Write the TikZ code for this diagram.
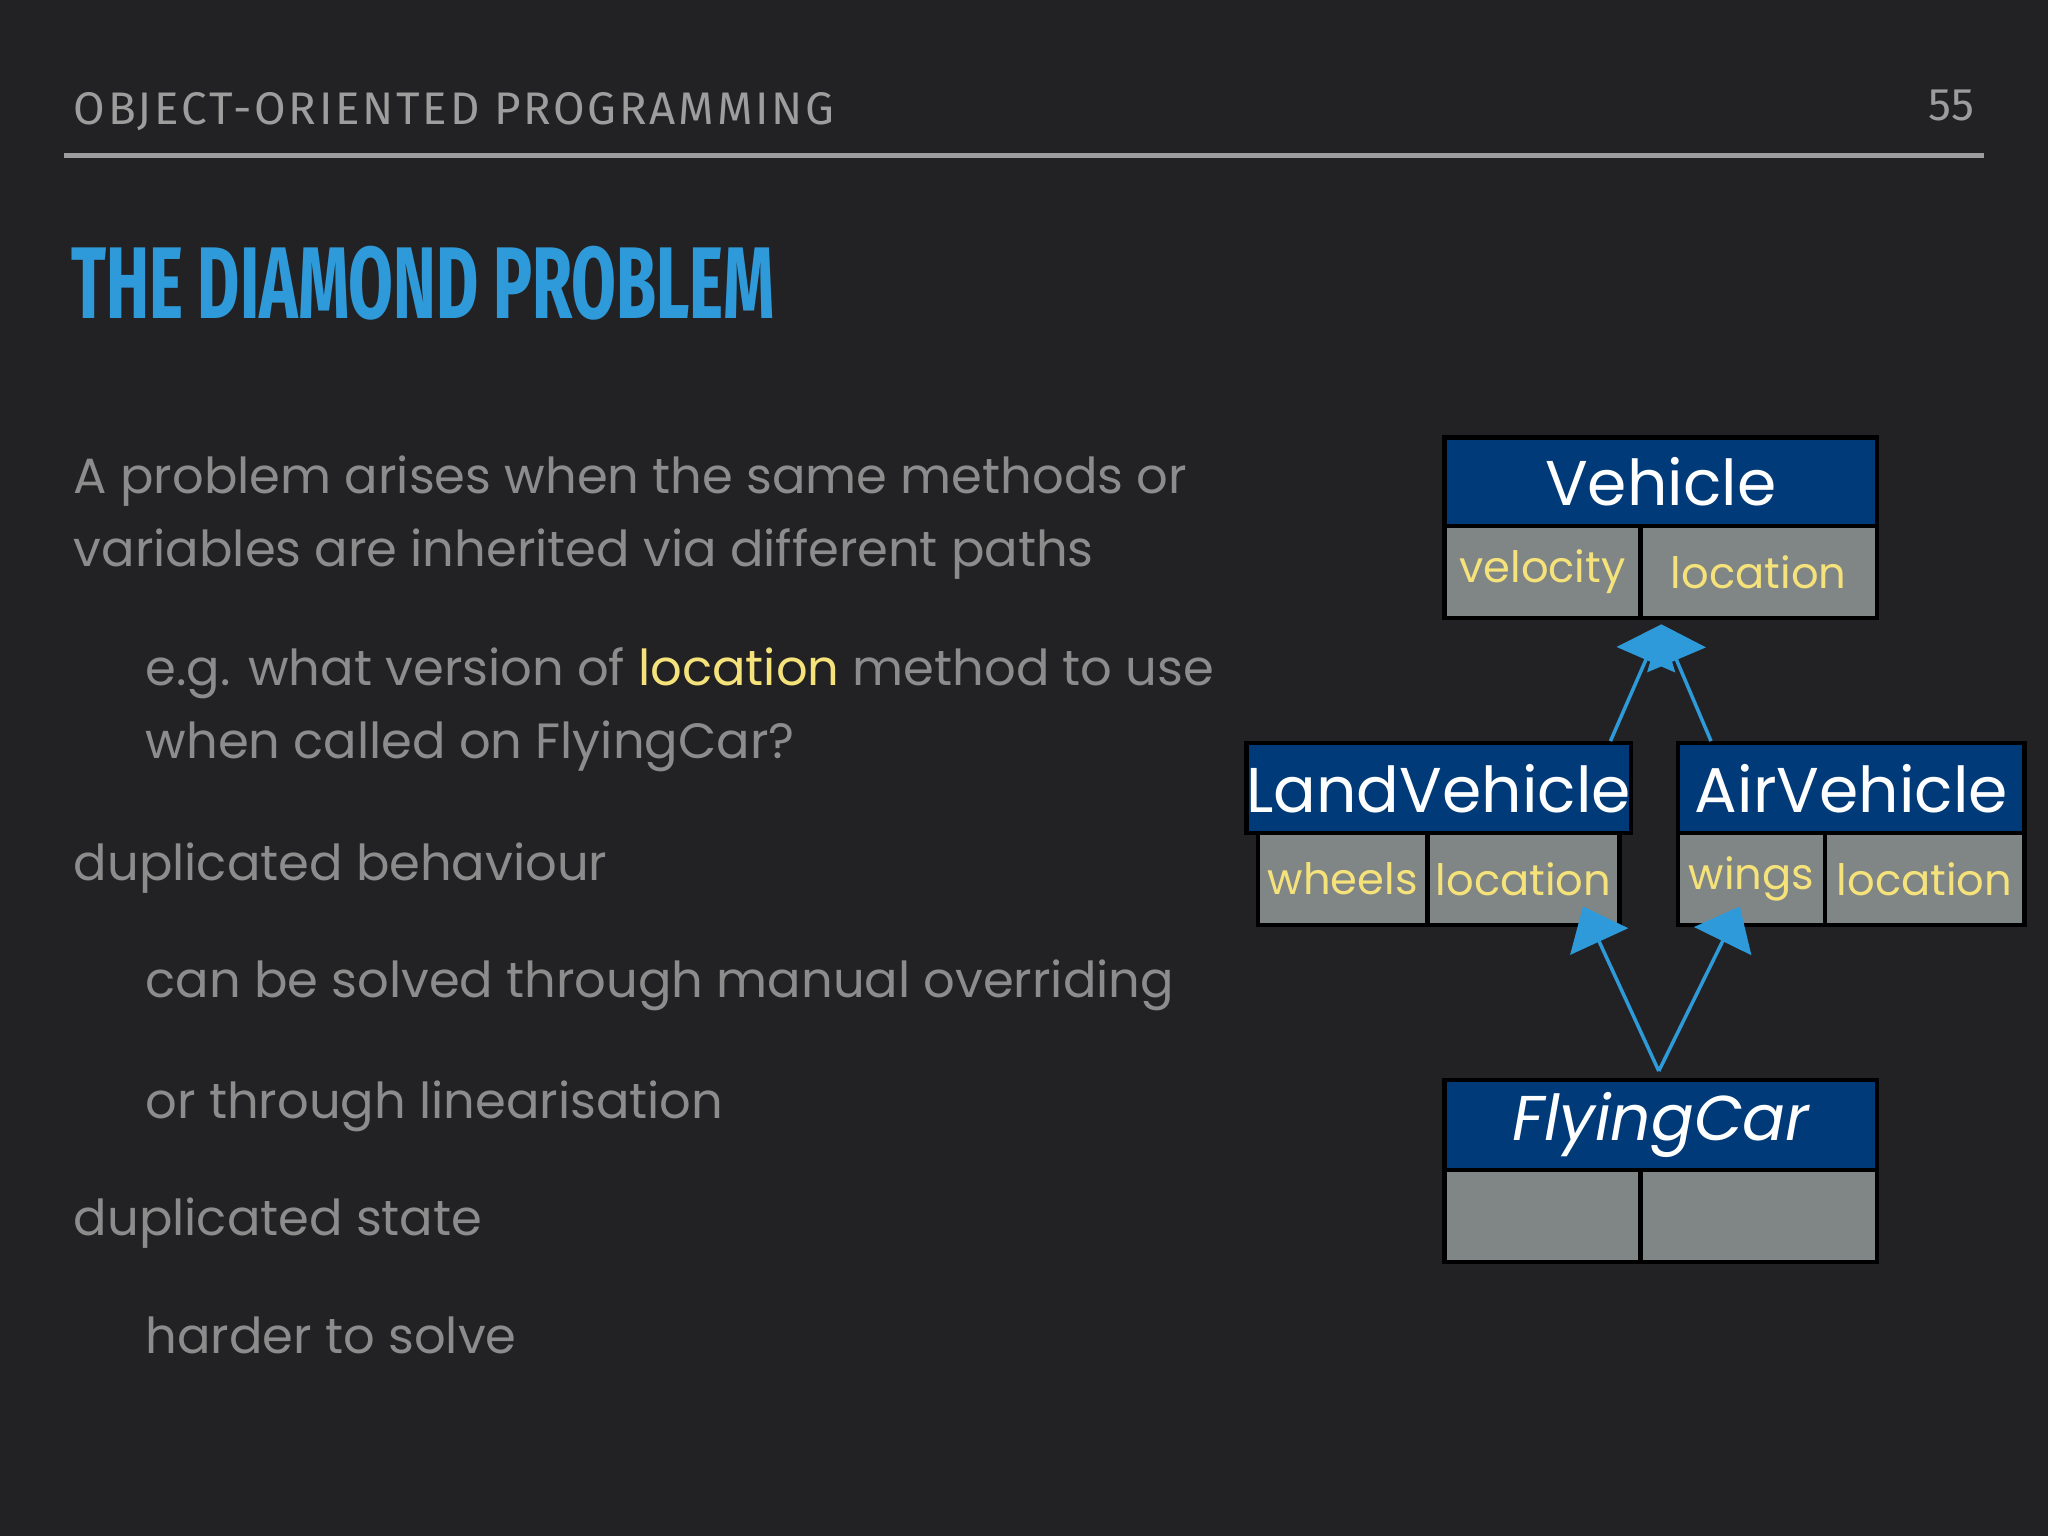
\documentclass[tikz,border=0pt]{standalone}
\usepackage{fontspec}
\setmainfont{Poppins}
\newfontfamily\titlefont{Fira Sans Condensed}[Scale=1]
\newfontfamily\headfont{Fira Sans}
\usetikzlibrary{arrows.meta,positioning}
\definecolor{slidebg}{HTML}{222224}
\definecolor{bodygray}{HTML}{8C8C8C}
\definecolor{titleblue}{HTML}{2E9AD9}
\definecolor{classblue}{HTML}{003A78}
\definecolor{fieldgray}{HTML}{808585}
\definecolor{fieldyellow}{HTML}{F5E27A}
\tikzset{
  classhead/.style={rectangle, draw=black, line width=1.2pt, fill=classblue, text=white, inner sep=0pt, font=\fontsize{18}{18}\selectfont},
  fieldbox/.style={rectangle, draw=black, line width=1.2pt, fill=fieldgray, text=fieldyellow, inner sep=0pt, font=\fontsize{12.3}{12.3}\selectfont},
  bodytext/.style={anchor=base west, inner sep=0pt, text=bodygray, font=\fontsize{14.1}{18}\selectfont},
  inherit/.style={draw=titleblue, line width=1pt, -{Triangle[width=18pt,length=11pt,fill=titleblue]}},
}
\begin{document}
\begin{tikzpicture}[x=0.013061cm, y=-0.013061cm]
\fill[slidebg] (0,0) rectangle (1568,1176);
\useasboundingbox (0,0) rectangle (1568,1176);

% header
\node[anchor=base west, inner sep=0pt, text=bodygray!85, font=\headfont\fontsize{13}{13}\selectfont\addfontfeatures{LetterSpace=6}] (header) at (56,95) {OBJECT-ORIENTED PROGRAMMING};
\node[anchor=base east, inner sep=0pt, text=bodygray!85, font=\headfont\fontsize{13}{13}\selectfont] (page) at (1512,92) {55};
\draw[bodygray!85, line width=1.2pt] (49,119) -- (1519,119);
\node[anchor=base west, inner sep=0pt, text=titleblue, font=\titlefont\bfseries\fontsize{29}{29}\selectfont] (title) at (54,244) {\scalebox{0.7}[1]{THE DIAMOND PROBLEM}};

% body text
\node[bodytext] (l1) at (56,378) {A problem arises when the same methods or};
\node[bodytext] (l2) at (56,434) {variables are inherited via different paths};
\node[bodytext] (l3) at (111,525) {e.g. what version of \textcolor{fieldyellow}{location} method to use};
\node[bodytext] (l4) at (111,581) {when called on FlyingCar?};
\node[bodytext] (l5) at (56,674) {duplicated behaviour};
\node[bodytext] (l6) at (111,764) {can be solved through manual overriding};
\node[bodytext] (l7) at (111,856) {or through linearisation};
\node[bodytext] (l8) at (56,946) {duplicated state};
\node[bodytext] (l9) at (111,1036) {harder to solve};

% Vehicle
\node[classhead, minimum width=331*0.013061cm, minimum height=68*0.013061cm] (vehicle) at (1271.5,369) {Vehicle};
\node[fieldbox, minimum width=150*0.013061cm, minimum height=70*0.013061cm] (vvel) at (1181,438) {velocity};
\node[fieldbox, minimum width=181*0.013061cm, minimum height=70*0.013061cm] (vloc) at (1346.5,438) {location};

% LandVehicle
\node[classhead, minimum width=277*0.013061cm, minimum height=69*0.013061cm] (land) at (1101.5,603.5) {LandVehicle};
\node[fieldbox, minimum width=130*0.013061cm, minimum height=70*0.013061cm] (lwheels) at (1028,673) {wheels};
\node[fieldbox, minimum width=147*0.013061cm, minimum height=70*0.013061cm] (lloc) at (1166.5,673) {location};

% AirVehicle
\node[classhead, minimum width=265*0.013061cm, minimum height=69*0.013061cm] (air) at (1417.5,603.5) {AirVehicle};
\node[fieldbox, minimum width=112*0.013061cm, minimum height=70*0.013061cm] (awings) at (1341,673) {wings};
\node[fieldbox, minimum width=153*0.013061cm, minimum height=70*0.013061cm] (aloc) at (1473.5,673) {location};

% FlyingCar
\node[classhead, minimum width=331*0.013061cm, minimum height=69*0.013061cm, font=\itshape\fontsize{18}{18}\selectfont] (flying) at (1271.5,861.5) {FlyingCar};
\node[fieldbox, minimum width=150*0.013061cm, minimum height=70*0.013061cm] (fleft) at (1181,931) {};
\node[fieldbox, minimum width=181*0.013061cm, minimum height=70*0.013061cm] (fright) at (1346.5,931) {};

% inheritance
\coordinate (vtip) at (1272,478);
\coordinate (ltip) at (1212,694);
\coordinate (atip) at (1332,694);
\coordinate (fjoin) at (1270,820);
\draw[inherit] (land.north -| 1233,0) -- (vtip);
\draw[inherit] (air.north -| 1310,0) -- (vtip);
\draw[inherit] (fjoin) -- (ltip);
\draw[inherit] (fjoin) -- (atip);
\end{tikzpicture}
\end{document}
